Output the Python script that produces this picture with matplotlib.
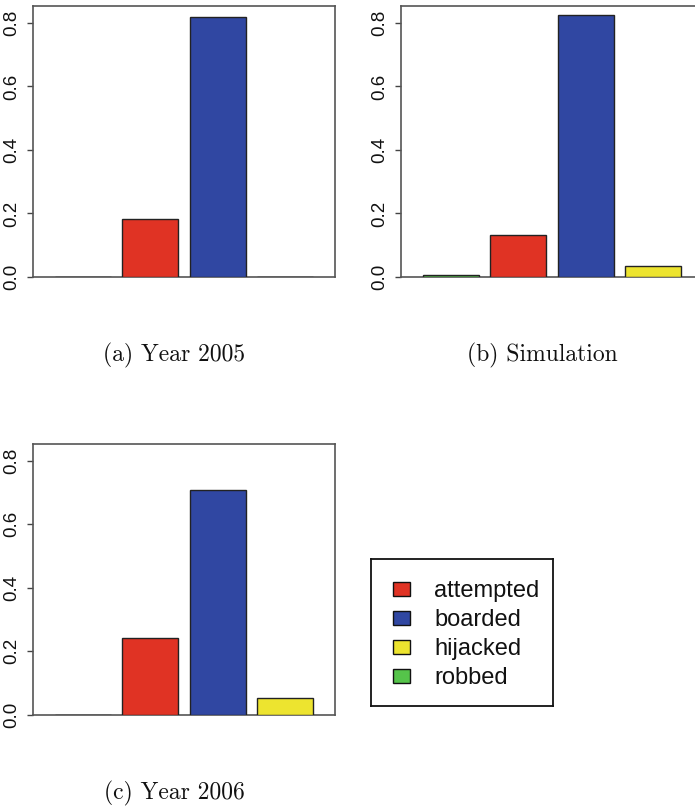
import matplotlib
matplotlib.use("Agg")
import matplotlib.pyplot as plt
from matplotlib.patches import Rectangle

# Bar order on the x axis
categories = ["robbed", "attempted", "boarded", "hijacked"]
colors = {"robbed": "#55C44A", "attempted": "#E03324",
          "boarded": "#3047A2", "hijacked": "#EDE42F"}

year2005 = [0.0, 0.183, 0.818, 0.0]
simulation = [0.006, 0.132, 0.825, 0.036]
year2006 = [0.0, 0.241, 0.706, 0.053]

captions = ["(a) Year 2005", "(b) Simulation", "(c) Year 2006"]
yticks = [0.0, 0.2, 0.4, 0.6, 0.8]
legend_order = ["attempted", "boarded", "hijacked", "robbed"]

W, H = 695, 807
fig = plt.figure(figsize=(W / 100, H / 100), dpi=100)

SANS = "Liberation Sans"


def px_axes(left, top, width, height):
    return fig.add_axes([left / W, 1 - (top + height) / H, width / W, height / H])


def draw_panel(ax, values):
    x = range(len(categories))
    ax.bar(x, values, width=1 / 1.2,
           color=[colors[c] for c in categories],
           edgecolor="#222222", linewidth=1.0, zorder=3)
    ax.set_xlim(-0.743, 3.743)
    ax.set_ylim(0, 0.853)
    ax.set_xticks([])
    ax.set_yticks(yticks)
    ax.set_yticklabels([f"{t:.1f}" for t in yticks], rotation=90,
                       va="center", family=SANS, fontsize=13.5)
    ax.tick_params(axis="y", length=4, width=1, color="#444444",
                   pad=5, labelcolor="#111111")
    for s in ax.spines.values():
        s.set_color("#555555")
        s.set_linewidth(1.2)


panels = [(33, 6, year2005), (401, 6, simulation), (33, 443.7, year2006)]
for left, top, vals in panels:
    ax = px_axes(left, top, 302, 271)
    draw_panel(ax, vals)

# Captions beneath each panel
cap_pos = [(174.5, 355), (542, 355), (174.5, 793)]
for text, (cx, cy) in zip(captions, cap_pos):
    fig.text(cx / W, 1 - cy / H, text, family="cmr10", fontsize=17,
             ha="center", va="center", color="#111111")

# Legend box
lax = px_axes(371, 559, 182, 147)
lax.set_xlim(0, 182)
lax.set_ylim(147, 0)
lax.set_xticks([])
lax.set_yticks([])
for s in lax.spines.values():
    s.set_color("#111111")
    s.set_linewidth(1.3)
for i, name in enumerate(legend_order):
    yc = 30 + i * 29
    lax.add_patch(Rectangle((22, yc - 7), 17, 14, facecolor=colors[name],
                            edgecolor="#111111", linewidth=1.0))
    lax.text(63, yc, name, family=SANS, fontsize=17, va="center_baseline",
             ha="left", color="#111111")

fig.savefig("out.png", dpi=100)
